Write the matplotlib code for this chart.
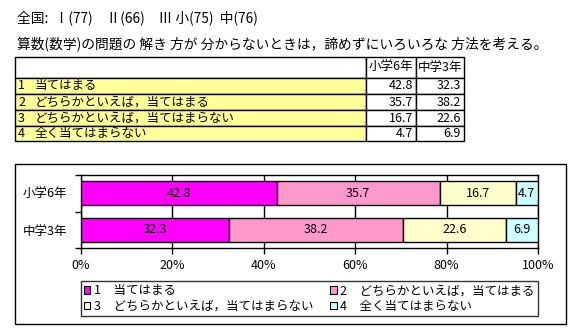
import matplotlib
matplotlib.use("Agg")
import numpy as np
import matplotlib.pyplot as plt
from matplotlib.patches import Rectangle, Patch

plt.rcParams['font.family'] = ['Noto Sans CJK JP', 'DejaVu Sans']

# survey results (%)
title_top = "全国:  Ⅰ(77)　Ⅱ(66)　Ⅲ 小(75)  中(76)"
question = "算数(数学)の問題の 解き 方が 分からないときは，諦めずにいろいろな 方法を考える。"
answers = ["当てはまる", "どちらかといえば，当てはまる",
           "どちらかといえば，当てはまらない", "全く当てはまらない"]
groups = ["小学6年", "中学3年"]
elem6 = [42.8, 35.7, 16.7, 4.7]
jhs3 = [32.3, 38.2, 22.6, 6.9]
colors = ["#FF00FF", "#FF99CC", "#FFFFCC", "#CCFFFF"]

W, H = 581, 333
fig = plt.figure(figsize=(W / 100, H / 100), dpi=100)


def fx(x):
    return x / W


def fy(y):
    return 1 - y / H


def frect(x0, y0, x1, y1, **kw):
    # rectangle given in pixel coordinates (top-left origin)
    r = Rectangle((fx(x0), fy(y1)), fx(x1) - fx(x0), fy(y0) - fy(y1),
                  transform=fig.transFigure, **kw)
    fig.add_artist(r)
    return r


fs = 9
fs_title = 9.9

fig.text(fx(17), fy(18), title_top, fontsize=fs_title, va='center', ha='left')
fig.text(fx(17), fy(44), question, fontsize=fs_title, va='center', ha='left')

# data table
row_y = [57, 78, 94, 110, 126, 141]
col_x = [15, 366, 416, 464]
for i in range(len(row_y) - 1):
    y0, y1 = row_y[i], row_y[i + 1]
    for j in range(len(col_x) - 1):
        x0, x1 = col_x[j], col_x[j + 1]
        fc = "#FFFF99" if (i > 0 and j == 0) else "white"
        frect(x0, y0, x1, y1, facecolor=fc, edgecolor='black', lw=1)
ym = lambda i: (row_y[i] + row_y[i + 1]) / 2
for j, g in enumerate(groups):
    fig.text(fx((col_x[j + 1] + col_x[j + 2]) / 2), fy(ym(0)), g,
             fontsize=fs, ha='center', va='center')
for i, a in enumerate(answers):
    fig.text(fx(col_x[0] + 3), fy(ym(i + 1)), f"{i + 1}", fontsize=fs,
             ha='left', va='center')
    fig.text(fx(col_x[0] + 20), fy(ym(i + 1)), a, fontsize=fs,
             ha='left', va='center')
    for j, vals in enumerate([elem6, jhs3]):
        fig.text(fx(col_x[j + 2] - 3), fy(ym(i + 1)), f"{vals[i]:.1f}",
                 fontsize=fs, ha='right', va='center')

# chart frame
frect(15, 164, 566, 324, facecolor='none', edgecolor='black', lw=1)

ax = fig.add_axes([fx(81), fy(248), fx(538) - fx(81), fy(175) - fy(248)])
data = np.array([elem6, jhs3])
left = np.zeros(len(groups))
ypos = np.arange(len(groups))
for k in range(len(answers)):
    ax.barh(ypos, data[:, k] / 100, left=left, height=0.66, color=colors[k],
            edgecolor='black', linewidth=1, zorder=3)
    for yi in range(len(groups)):
        ax.text(left[yi] + data[yi, k] / 200, ypos[yi], f"{data[yi, k]:.1f}",
                ha='center', va='center', fontsize=fs, zorder=4)
    left += data[:, k] / 100

ax.set_xlim(0, 1)
ax.set_ylim(1.5, -0.5)
ax.set_xticks(np.arange(0, 1.01, 0.2))
ax.set_xticklabels([f"{int(round(v * 100))}%" for v in np.arange(0, 1.01, 0.2)],
                   fontsize=fs)
ax.set_yticks(ypos)
ax.set_yticklabels(groups, fontsize=fs)
ax.set_yticks([-0.5, 0.5, 1.5], minor=True)
ax.tick_params(axis='y', which='major', length=0, pad=10)
ax.tick_params(axis='y', which='minor', length=4, direction='out', width=1)
ax.tick_params(axis='x', length=4, direction='out', width=1, pad=4)
ax.grid(axis='x', color='black', lw=1, zorder=1)
for s in ax.spines.values():
    s.set_color('black')
    s.set_linewidth(1)

handles = [Patch(facecolor=c, edgecolor='black', lw=0.8) for c in colors]
labels = [f"{i + 1}　{a}" for i, a in enumerate(answers)]
order = [0, 2, 1, 3]
leg = fig.legend([handles[i] for i in order], [labels[i] for i in order],
                 ncol=2, loc='lower left', mode='expand',
                 bbox_to_anchor=(fx(81), fy(316), fx(538) - fx(81), fy(277) - fy(316)),
                 fontsize=fs, frameon=True, fancybox=False, edgecolor='black',
                 handlelength=0.5, handleheight=0.5, handletextpad=0.3,
                 borderaxespad=0, borderpad=0.25, labelspacing=0.2,
                 columnspacing=1.0)
leg.get_frame().set_linewidth(1)

fig.savefig("out.png", dpi=100)
